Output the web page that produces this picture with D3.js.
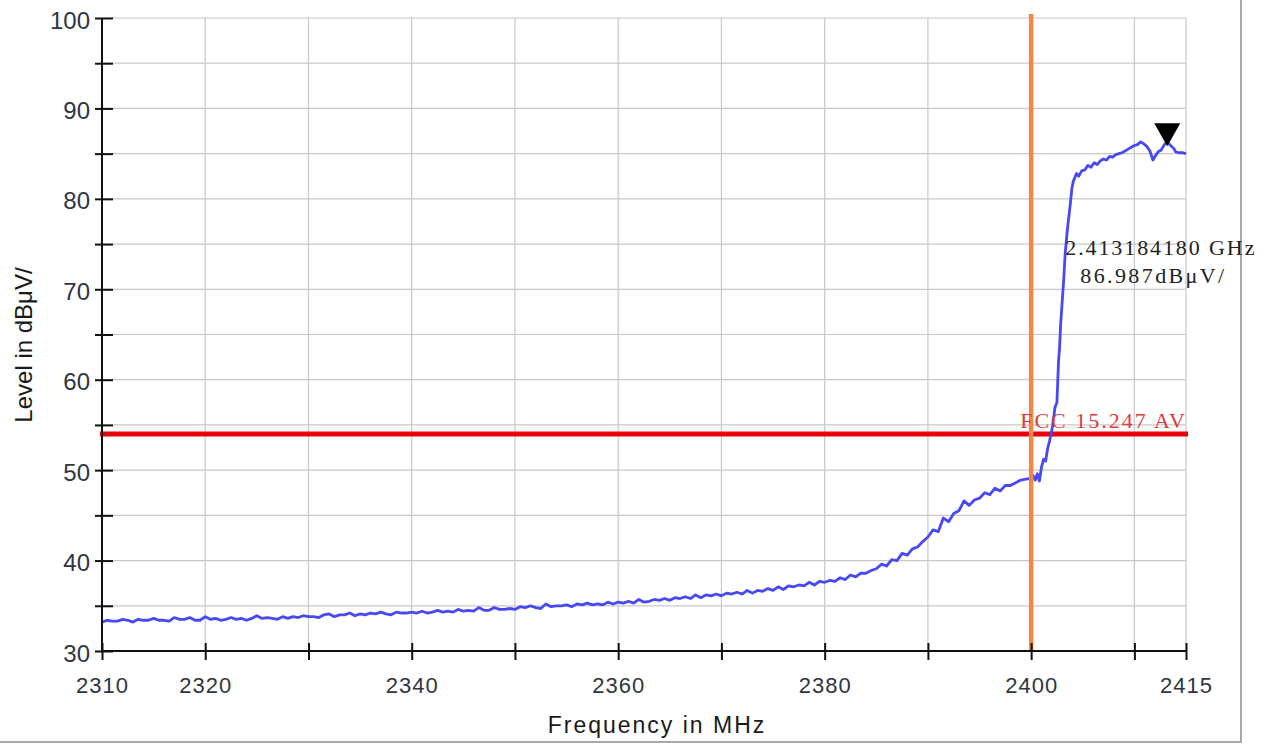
<!DOCTYPE html>
<html>
<head>
<meta charset="utf-8">
<script src="https://cdn.jsdelivr.net/npm/d3@7"></script>
<style>
  body { margin: 0; background: #fff; }
  svg { display: block; }
</style>
</head>
<body>
<svg id="chart" width="1275" height="745"></svg>
<script>
// ---- axis definitions ----
const xTicks = [2310, 2320, 2330, 2340, 2350, 2360, 2370, 2380, 2390, 2400, 2410, 2415];
const xTickLabels = [2310, 2320, 2340, 2360, 2380, 2400, 2415];
const yTicks = [30, 35, 40, 45, 50, 55, 60, 65, 70, 75, 80, 85, 90, 95, 100];
const yTickLabels = [30, 40, 50, 60, 70, 80, 90, 100];

// ---- measured trace: uniform sweep 2310..2400 MHz, 0.5 MHz bins (dBµV/m) ----
const sweepStart = 2310;
const sweepStep = 0.5;
const sweepLevels = [
  33.2, 33.4, 33.3, 33.3, 33.5, 33.4, 33.2, 33.5, 33.4, 33.4,
  33.6, 33.4, 33.4, 33.3, 33.7, 33.5, 33.5, 33.7, 33.4, 33.4,
  33.8, 33.5, 33.6, 33.4, 33.5, 33.7, 33.5, 33.6, 33.4, 33.6,
  33.9, 33.6, 33.7, 33.6, 33.5, 33.8, 33.6, 33.8, 33.7, 33.9,
  33.8, 33.8, 33.7, 34.0, 34.1, 33.8, 34.0, 34.0, 34.2, 33.9,
  34.1, 34.0, 34.2, 34.1, 34.3, 34.1, 34.0, 34.3, 34.2, 34.2,
  34.3, 34.2, 34.4, 34.2, 34.3, 34.5, 34.3, 34.4, 34.3, 34.6,
  34.4, 34.5, 34.4, 34.8, 34.5, 34.5, 34.8, 34.6, 34.6, 34.7,
  34.6, 34.9, 34.8, 35.0, 34.8, 34.7, 35.2, 34.9, 35.0, 35.0,
  35.1, 34.9, 35.2, 35.1, 35.3, 35.1, 35.2, 35.1, 35.4, 35.2,
  35.4, 35.3, 35.5, 35.3, 35.7, 35.4, 35.5, 35.7, 35.6, 35.8,
  35.6, 35.9, 35.8, 36.0, 35.8, 36.2, 35.9, 36.2, 36.1, 36.3,
  36.1, 36.4, 36.3, 36.5, 36.3, 36.7, 36.4, 36.7, 36.6, 36.9,
  36.7, 37.1, 36.8, 37.2, 37.1, 37.3, 37.2, 37.6, 37.3, 37.7,
  37.6, 37.8, 37.7, 38.1, 37.9, 38.4, 38.2, 38.6, 38.6, 38.9,
  39.1, 39.6, 39.4, 40.1, 40.0, 40.8, 40.6, 41.3, 41.5, 42.1,
  42.6, 43.4, 43.2, 44.7, 44.3, 45.2, 45.5, 46.6, 46.1, 46.7,
  46.9, 47.5, 47.3, 48.0, 47.7, 48.3, 48.3, 48.6, 48.9, 49.0,
  49.1
];

// ---- measured trace above the band edge (irregular points) ----
const edgeFreqs = [
  2400.2, 2400.4, 2400.6, 2400.8, 2401.0, 2401.2, 2401.4, 2401.6, 2401.8, 2402.1,
  2402.3, 2402.5, 2402.65, 2402.75, 2402.85, 2403.0, 2403.15, 2403.3, 2403.5, 2403.8,
  2403.95, 2404.1, 2404.4, 2404.6, 2404.9, 2405.2, 2405.5, 2405.8, 2406.1, 2406.4,
  2406.7, 2407.0, 2407.3, 2407.6, 2407.9, 2408.2, 2408.5, 2408.8, 2409.1, 2409.4,
  2409.7, 2410.0, 2410.3, 2410.6, 2410.9, 2411.2, 2411.5, 2411.8, 2412.0, 2412.3,
  2412.6, 2412.9, 2413.2, 2413.5, 2413.8, 2414.0, 2414.3, 2414.6, 2415.0
];
const edgeLevels = [
  49.4, 48.9, 49.6, 48.8, 50.3, 51.2, 51.0, 52.4, 53.3, 55.0,
  56.9, 57.5, 62.0, 63.5, 66.0, 68.5, 71.0, 74.0, 76.5, 79.5,
  81.2, 82.0, 82.8, 82.5, 83.1, 83.2, 83.7, 83.5, 84.0, 83.8,
  84.2, 84.4, 84.3, 84.7, 84.6, 84.9, 85.0, 85.1, 85.3, 85.5,
  85.7, 85.9, 86.0, 86.3, 86.1, 85.8, 85.3, 84.3, 84.7, 85.2,
  85.4, 86.0, 86.3, 85.9, 85.6, 85.2, 85.1, 85.1, 85.0
];

// ---- limit, band edge and peak marker ----
const limitLevel = 54;
const limitLabel = "FCC 15.247 AV";
const bandEdge = 2400;
const markerFreq = 2413.184180;
const markerLevel = 86.987;
const markerFreqText = "2.413184180 GHz";
const markerLevelText = "86.987dBμV/";

// ---- layout ----
const svg = d3.select("#chart");
const plot = { left: 102, top: 18, right: 1186, bottom: 651 };

const x = d3.scaleLinear().domain([2310, 2415]).range([plot.left, plot.right]);
const y = d3.scaleLinear().domain([30, 100]).range([plot.bottom, plot.top]);

// outer frame of the report window
svg.append("line").attr("x1", 1241).attr("x2", 1241).attr("y1", 0).attr("y2", 743)
  .attr("stroke", "#a8a8a8").attr("stroke-width", 2);
svg.append("line").attr("x1", 0).attr("x2", 1242).attr("y1", 742).attr("y2", 742)
  .attr("stroke", "#a8a8a8").attr("stroke-width", 2);

// grid
const grid = svg.append("g").attr("stroke", "#c8c8c8").attr("stroke-width", 1.2);
grid.selectAll("line.h").data(yTicks.filter(v => v > 30)).join("line")
  .attr("class", "h")
  .attr("x1", plot.left).attr("x2", plot.right)
  .attr("y1", d => y(d)).attr("y2", d => y(d));
grid.selectAll("line.v").data(xTicks.filter(v => v > 2310)).join("line")
  .attr("class", "v")
  .attr("x1", d => x(d)).attr("x2", d => x(d))
  .attr("y1", plot.top).attr("y2", plot.bottom);

// limit line
svg.append("line")
  .attr("x1", x(2310) - 2).attr("x2", x(2415) + 2)
  .attr("y1", y(limitLevel)).attr("y2", y(limitLevel))
  .attr("stroke", "#e8000a").attr("stroke-width", 5);

// trace
const trace = sweepLevels.map((v, i) => [sweepStart + i * sweepStep, v])
  .concat(edgeFreqs.map((f, i) => [f, edgeLevels[i]]));
svg.append("path")
  .datum(trace)
  .attr("fill", "none")
  .attr("stroke", "#4848f4")
  .attr("stroke-width", 2.8)
  .attr("stroke-linejoin", "round")
  .attr("d", d3.line().x(d => x(d[0])).y(d => y(d[1])));

// band edge
svg.append("line")
  .attr("x1", x(bandEdge)).attr("x2", x(bandEdge))
  .attr("y1", plot.top - 4).attr("y2", plot.bottom)
  .attr("stroke", "#f2874a").attr("stroke-width", 4.5);

// axes
const tickFont = "'Liberation Sans', Arial, sans-serif";
const tickColor = "#2f3640";

const yAxisOuter = d3.axisLeft(y).tickValues(yTicks).tickSize(7).tickPadding(5)
  .tickFormat(d => yTickLabels.includes(d) ? String(d) : "");
const gy = svg.append("g").attr("transform", `translate(${plot.left},0)`).call(yAxisOuter);
gy.select(".domain").remove();
gy.selectAll("text").attr("font-family", tickFont).attr("font-size", 24)
  .attr("fill", tickColor).attr("dy", "0.42em");
gy.selectAll("line").attr("stroke", "#111").attr("stroke-width", 2);

const yAxisInner = d3.axisLeft(y).tickValues(yTicks).tickSize(-11).tickFormat("");
const gyi = svg.append("g").attr("transform", `translate(${plot.left},0)`).call(yAxisInner);
gyi.select(".domain").remove();
gyi.selectAll("line").attr("stroke", "#111").attr("stroke-width", 2);

const xAxisOuter = d3.axisBottom(x).tickValues(xTicks).tickSize(9).tickPadding(17)
  .tickFormat(d => xTickLabels.includes(d) ? String(d) : "");
const gx = svg.append("g").attr("transform", `translate(0,${plot.bottom})`).call(xAxisOuter);
gx.select(".domain").remove();
gx.selectAll("text").attr("font-family", tickFont).attr("font-size", 22)
  .attr("letter-spacing", 1).attr("fill", tickColor);
gx.selectAll("line").attr("stroke", "#111").attr("stroke-width", 2);

const xAxisInner = d3.axisBottom(x).tickValues(xTicks).tickSize(-8).tickFormat("");
const gxi = svg.append("g").attr("transform", `translate(0,${plot.bottom})`).call(xAxisInner);
gxi.select(".domain").remove();
gxi.selectAll("line").attr("stroke", "#111").attr("stroke-width", 2);

// axis lines
svg.append("line").attr("x1", plot.left).attr("x2", plot.left)
  .attr("y1", plot.top).attr("y2", plot.bottom + 1)
  .attr("stroke", "#111").attr("stroke-width", 2);
svg.append("line").attr("x1", plot.left - 1).attr("x2", plot.right)
  .attr("y1", plot.bottom).attr("y2", plot.bottom)
  .attr("stroke", "#111").attr("stroke-width", 2);

// axis titles
svg.append("text")
  .attr("x", 657).attr("y", 733)
  .attr("text-anchor", "middle")
  .attr("font-family", tickFont).attr("font-size", 23).attr("letter-spacing", 2)
  .attr("fill", "#1a1a1a")
  .text("Frequency in MHz");
svg.append("text")
  .attr("transform", "translate(32,345) rotate(-90)")
  .attr("text-anchor", "middle")
  .attr("font-family", tickFont).attr("font-size", 24)
  .attr("fill", "#1a1a1a")
  .text("Level in dBμV/");

// peak marker
const mx = x(markerFreq), my = y(markerLevel);
svg.append("path")
  .attr("d", `M${mx - 13},${my - 12.5} L${mx + 13},${my - 12.5} L${mx},${my + 10.5} Z`)
  .attr("fill", "#000");

const serif = "'Liberation Serif', 'Times New Roman', serif";
svg.append("text")
  .attr("x", mx - 102).attr("y", my + 119)
  .attr("font-family", serif).attr("font-size", 22).attr("letter-spacing", 1.9)
  .attr("fill", "#222")
  .text(markerFreqText);
svg.append("text")
  .attr("x", mx - 87).attr("y", my + 147)
  .attr("font-family", serif).attr("font-size", 22).attr("letter-spacing", 2.4)
  .attr("fill", "#222")
  .text(markerLevelText);

// limit label
svg.append("text")
  .attr("x", x(2415) + 1).attr("y", y(limitLevel) - 6)
  .attr("text-anchor", "end")
  .attr("font-family", serif).attr("font-size", 22).attr("letter-spacing", 2)
  .attr("fill", "#e03a3a")
  .text(limitLabel);
</script>
</body>
</html>
